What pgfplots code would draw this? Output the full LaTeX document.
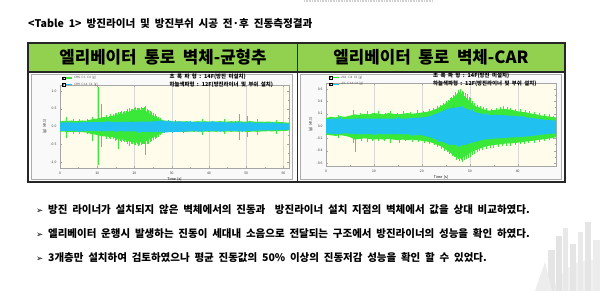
\documentclass[border=0pt]{standalone}
\usepackage{pgfplots}
\pgfplotsset{compat=1.18}
\usepackage{fontspec}
\setmainfont[WordSpace=2]{Noto Sans CJK KR}
\newfontfamily\dejavu{DejaVu Sans}
\definecolor{hdrgreen}{RGB}{146,208,80}
\definecolor{grn}{RGB}{58,232,58}
\definecolor{cyn}{RGB}{32,192,240}
\definecolor{cream}{RGB}{255,252,236}
\pgfplotsset{vib/.style={
  scale only axis, clip=false,
  axis background/.style={fill=cream},
  axis line style={gray!70, line width=0.3pt},
  tick style={gray!70, line width=0.25pt},
  major tick length=1.6pt, minor tick length=0.9pt,
  xmajorgrids, grid style={gray!30, line width=0.3pt},
  /pgf/number format/assume math mode=true,
  tick label style={font=\fontsize{3.4}{4}\selectfont, text=black!80},
  yticklabel style={/pgf/number format/.cd, fixed, fixed zerofill, precision=1},
  xlabel={Time [s]}, xlabel style={font=\fontsize{3.6}{4}\selectfont, inner sep=0.5pt},
  ylabel={[g] (x0.1)}, ylabel style={font=\fontsize{3.4}{4}\selectfont, inner sep=0.5pt},
  minor x tick num=1, minor y tick num=1,
  legend style={draw=none, fill=none, font=\fontsize{3}{3.5}\selectfont, inner sep=0pt,
    row sep=-1.2pt, legend cell align=left, text=black!70},
  legend image code/.code={
    \draw[black, line width=0.2pt, fill=white] (0pt,-1.3pt) rectangle (2.6pt,1.3pt);
    \draw[black, line width=0.3pt] (0.4pt,0.1pt) -- (1.1pt,-0.8pt) -- (2.3pt,1.0pt);
    \draw[line width=1.4pt, #1] (3.6pt,0pt) -- (9.5pt,0pt);}
}}
\begin{document}
\begin{tikzpicture}
\useasboundingbox (0pt,0pt) rectangle (600pt,-291pt);
\fill[white] (0pt,0pt) rectangle (600pt,-291pt);
\draw[gray!35, line width=1.2pt, dash pattern=on 1pt off 0.6pt] (304pt,-1pt) -- (433pt,-1pt);
% decoration bottom right
\begin{scope}
\fill[gray!12] (592pt,-300pt) circle (40pt);
\fill[gray!20] (548pt,-291pt) rectangle (555pt,-250pt);
\fill[gray!22] (556pt,-291pt) rectangle (562pt,-236pt);
\fill[gray!18] (563pt,-291pt) rectangle (568pt,-228pt);
\fill[gray!20] (570pt,-291pt) rectangle (576pt,-244pt);
\fill[gray!17] (578pt,-291pt) rectangle (583pt,-232pt);
\fill[gray!20] (585pt,-291pt) rectangle (591pt,-222pt);
\fill[gray!15] (593pt,-291pt) rectangle (600pt,-240pt);
\fill[gray!14] (535pt,-291pt) -- (545pt,-262pt) -- (552pt,-291pt) -- cycle;
\end{scope}
% title
\node[anchor=west, inner sep=0pt, font=\bfseries\fontsize{10.6}{12}\selectfont] at (28pt,-24pt)
  {<Table 1> 방진라이너 및 방진부쉬 시공 전·후 진동측정결과};
% table
\fill[hdrgreen] (28pt,-43pt) rectangle (565pt,-72pt);
\draw[line width=1.1pt, black!85] (28pt,-43pt) rectangle (565pt,-182pt);
\draw[line width=1.1pt, black!85] (28pt,-72pt) -- (565pt,-72pt);
\draw[line width=0.9pt, black!85] (297pt,-43pt) -- (297pt,-182pt);
\node[inner sep=0pt, font=\bfseries\fontsize{16.8}{18}\selectfont] at (163pt,-57.5pt) {엘리베이터 통로 벽체-균형추};
\node[inner sep=0pt, font=\bfseries\fontsize{16.8}{18}\selectfont] at (431pt,-57.5pt) {엘리베이터 통로 벽체-CAR};
% chart frames
\draw[gray!65, fill=gray!5, line width=0.9pt] (31pt,-74pt) rectangle (292pt,-179pt);
\draw[gray!65, fill=gray!5, line width=0.9pt] (300pt,-74pt) rectangle (561pt,-179pt);

% ---------------- left chart ----------------
\begin{axis}[vib, at={(60pt,-168pt)}, anchor=south west, width=229pt, height=83pt,
  xmin=0, xmax=61.5, ymin=-1.17, ymax=1.17,
  xtick={0,10,...,60}, ytick={-1,-0.5,0,0.5,1},
  legend style={at={(0.008,1.135)}, anchor=north west}]
\addplot[fill=grn, draw=none, forget plot] coordinates {
(0,0.14)(1,0.16)(2,0.15)(3,0.17)(4,0.15)(5,0.16)(6,0.17)(7,0.16)(8,0.19)(9,0.21)(10,0.22)(11,0.25)(12,0.27)(13,0.26)(14,0.30)(15,0.32)(16,0.35)(17,0.37)(18,0.40)(19,0.44)(20,0.47)(21,0.45)(22,0.48)(23,0.44)(24,0.38)(25,0.31)(26,0.25)(27,0.20)(28,0.17)(29,0.16)(30,0.15)(31,0.14)(32,0.15)(33,0.14)(34,0.15)(35,0.14)(36,0.14)(37,0.15)(38,0.14)(39,0.15)(40,0.14)(41,0.15)(42,0.14)(43,0.15)(44,0.14)(45,0.14)(46,0.15)(47,0.14)(48,0.15)(49,0.14)(50,0.14)(51,0.15)(52,0.14)(53,0.13)(54,0.14)(55,0.13)(56,0.14)(57,0.13)(58,0.13)(59,0.12)(60,0.12)(61,0.11)(61.5,0.11)
(61.5,-0.11)(61,-0.12)(60,-0.12)(59,-0.13)(58,-0.13)(57,-0.14)(56,-0.13)(55,-0.14)(54,-0.14)(53,-0.15)(52,-0.14)(51,-0.15)(50,-0.15)(49,-0.14)(48,-0.15)(47,-0.14)(46,-0.15)(45,-0.14)(44,-0.15)(43,-0.14)(42,-0.15)(41,-0.14)(40,-0.15)(39,-0.14)(38,-0.15)(37,-0.14)(36,-0.15)(35,-0.14)(34,-0.15)(33,-0.15)(32,-0.14)(31,-0.15)(30,-0.15)(29,-0.16)(28,-0.17)(27,-0.21)(26,-0.26)(25,-0.31)(24,-0.36)(23,-0.42)(22,-0.44)(21,-0.46)(20,-0.45)(19,-0.43)(18,-0.40)(17,-0.37)(16,-0.36)(15,-0.33)(14,-0.30)(13,-0.29)(12,-0.28)(11,-0.27)(10,-0.24)(9,-0.22)(8,-0.20)(7,-0.17)(6,-0.16)(5,-0.15)(4,-0.16)(3,-0.15)(2,-0.16)(1,-0.14)(0,-0.15)};
\addplot[ycomb, grn, line width=0.45pt, mark=none, forget plot] coordinates {
(1.6,0.26)(3.5,0.2)(5.2,0.21)(7.4,0.22)(8.75,0.28)(10.3,1.1)(11.2,0.64)(12.5,0.33)(13.1,0.31)(13.6,0.36)(14.2,0.34)(14.7,0.38)(15.2,0.37)(15.6,0.42)(16.1,0.4)(16.5,0.43)(16.9,0.41)(17.3,0.45)(17.7,0.44)(18.1,0.48)(18.6,0.52)(19,0.49)(19.4,0.5)(19.9,0.53)(20.3,0.55)(20.7,0.51)(21,0.53)(21.4,0.52)(21.7,0.56)(22.1,0.53)(22.4,0.52)(22.7,0.54)(23,0.57)(23.4,0.5)(23.8,0.46)(24.2,0.43)(24.6,0.4)(25,0.37)(25.5,0.34)(25.9,0.3)(26.3,0.28)(26.8,0.24)(38.2,0.22)(44,0.2)(48.2,0.36)(50.3,0.3)(53,0.2)(58,0.18)};
\addplot[ycomb, grn, line width=0.45pt, mark=none, forget plot] coordinates {
(1.6,-0.32)(3.5,-0.2)(5.2,-0.21)(7.4,-0.22)(8.75,-0.4)(10.3,-1.08)(11.2,-0.58)(12.5,-0.34)(13.1,-0.33)(13.6,-0.36)(14.2,-0.35)(14.7,-0.4)(15.2,-0.38)(15.6,-0.63)(16.1,-0.41)(16.5,-0.44)(16.9,-0.42)(17.3,-0.45)(17.7,-0.44)(18.1,-0.48)(18.6,-0.55)(19,-0.49)(19.4,-0.5)(19.9,-0.51)(20.3,-0.52)(20.7,-0.5)(21,-0.55)(21.4,-0.51)(21.7,-0.53)(22.1,-0.5)(22.4,-0.5)(22.7,-0.48)(23,-0.79)(23.4,-0.5)(23.8,-0.48)(24.2,-0.44)(24.6,-0.42)(25,-0.38)(25.5,-0.35)(25.9,-0.32)(26.3,-0.3)(26.8,-0.25)(38.2,-0.25)(44,-0.2)(48.2,-0.39)(50.3,-0.3)(53,-0.25)(58,-0.2)};
\addplot[fill=cyn, draw=none, forget plot] coordinates {
(0,0.11)(2,0.12)(4,0.11)(6,0.12)(8,0.12)(10,0.12)(12,0.13)(14,0.12)(16,0.13)(18,0.13)(20,0.13)(22,0.14)(24,0.14)(26,0.15)(28,0.15)(30,0.14)(32,0.14)(34,0.13)(36,0.12)(38,0.13)(40,0.12)(42,0.12)(44,0.12)(46,0.11)(48,0.12)(50,0.11)(52,0.11)(54,0.1)(56,0.1)(58,0.09)(60,0.09)(61.5,0.08)
(61.5,-0.09)(60,-0.1)(58,-0.1)(56,-0.11)(54,-0.11)(52,-0.12)(50,-0.12)(48,-0.13)(46,-0.12)(44,-0.13)(42,-0.13)(40,-0.13)(38,-0.14)(36,-0.13)(34,-0.14)(32,-0.15)(30,-0.15)(28,-0.16)(26,-0.16)(24,-0.15)(22,-0.15)(20,-0.14)(18,-0.14)(16,-0.13)(14,-0.13)(12,-0.13)(10,-0.13)(8,-0.12)(6,-0.13)(4,-0.12)(2,-0.12)(0,-0.12)};
\addplot[ycomb, cyn, line width=0.4pt, mark=none, forget plot] coordinates {
(3,0.14)(9,0.15)(13,0.16)(19,0.16)(25,0.18)(27,0.18)(29,0.17)(31,0.17)(35,0.15)(41,0.15)(47,0.15)(51,0.14)(57,0.12)};
\addplot[ycomb, cyn, line width=0.4pt, mark=none, forget plot] coordinates {
(5,-0.15)(11,-0.16)(15,-0.16)(21,-0.17)(24,-0.18)(28,-0.19)(30,-0.18)(33,-0.18)(37,-0.16)(43,-0.16)(49,-0.15)(55,-0.14)(59,-0.12)};
\addlegendimage{grn}\addlegendentry{CH6 C:1 C4 [g]}
\addlegendimage{cyn}\addlegendentry{CH9 C:14 C4 [g]}
\node[anchor=west, inner sep=0pt, align=left, font=\bfseries\fontsize{5.4}{7.6}\selectfont]
  at (rel axis cs:0.478,1.05) {초 록 파 형 : 14F(방진 미설치)\\하늘색파형 : 12F(방진라이너 및 부쉬 설치)};
\end{axis}

% ---------------- right chart ----------------
\begin{axis}[vib, at={(326pt,-166pt)}, anchor=south west, width=230pt, height=83pt,
  xmin=0, xmax=48, ymin=-0.65, ymax=0.7,
  xtick={0,10,...,40}, ytick={-0.6,-0.4,-0.2,0,0.2,0.4,0.6},
  legend style={at={(0.012,1.115)}, anchor=north west}]
\addplot[fill=grn, draw=none, forget plot] coordinates {
(0,0.13)(1,0.15)(2,0.14)(3,0.16)(4,0.15)(5,0.17)(6,0.19)(7,0.18)(8,0.2)(9,0.19)(10,0.21)(11,0.2)(12,0.19)(13,0.21)(14,0.2)(15,0.19)(16,0.2)(17,0.21)(18,0.2)(19,0.21)(20,0.22)(21,0.23)(22,0.25)(23,0.28)(24,0.32)(25,0.37)(26,0.42)(27,0.5)(28,0.55)(29,0.48)(30,0.4)(31,0.33)(32,0.3)(33,0.27)(34,0.25)(35,0.26)(36,0.27)(37,0.28)(38,0.27)(39,0.26)(40,0.24)(41,0.23)(42,0.22)(43,0.2)(44,0.19)(45,0.17)(46,0.16)(47,0.15)(48,0.14)
(48,-0.18)(47,-0.2)(46,-0.21)(45,-0.22)(44,-0.23)(43,-0.24)(42,-0.25)(41,-0.26)(40,-0.27)(39,-0.28)(38,-0.28)(37,-0.29)(36,-0.3)(35,-0.31)(34,-0.32)(33,-0.34)(32,-0.37)(31,-0.4)(30,-0.44)(29,-0.5)(28,-0.53)(27,-0.5)(26,-0.44)(25,-0.38)(24,-0.33)(23,-0.3)(22,-0.27)(21,-0.25)(20,-0.24)(19,-0.23)(18,-0.22)(17,-0.23)(16,-0.22)(15,-0.23)(14,-0.22)(13,-0.21)(12,-0.22)(11,-0.21)(10,-0.22)(9,-0.21)(8,-0.2)(7,-0.21)(6,-0.22)(5,-0.18)(4,-0.16)(3,-0.15)(2,-0.16)(1,-0.15)(0,-0.14)};
\addplot[ycomb, grn, line width=0.45pt, mark=none, forget plot] coordinates {
(2.5,0.18)(5.7,0.26)(7.2,0.22)(8.5,0.24)(9.7,0.22)(10.8,0.25)(12.3,0.22)(13.5,0.24)(14.8,0.22)(16.2,0.25)(17.6,0.23)(19.1,0.26)(20.3,0.25)(21.5,0.28)(22.4,0.3)(23.2,0.33)(23.9,0.35)(24.5,0.38)(25,0.4)(25.5,0.43)(25.9,0.45)(26.2,0.48)(26.6,0.5)(27,0.55)(27.3,0.54)(27.6,0.58)(27.9,0.56)(28.1,0.6)(28.4,0.57)(28.7,0.55)(29,0.53)(29.4,0.52)(29.8,0.48)(30.2,0.45)(30.6,0.41)(31,0.38)(31.6,0.35)(32.2,0.33)(32.8,0.31)(33.5,0.3)(34.5,0.28)(35.5,0.3)(36.3,0.31)(37,0.32)(37.8,0.31)(38.5,0.3)(39.5,0.28)(40.5,0.27)(41.5,0.26)(42.5,0.24)(43.5,0.23)(44.5,0.21)(45.5,0.2)(46.5,0.19)(47.5,0.17)};
\addplot[ycomb, grn, line width=0.45pt, mark=none, forget plot] coordinates {
(2.5,-0.19)(5.7,-0.27)(6.2,-0.42)(7.3,-0.25)(8.5,-0.26)(9.6,-0.24)(10.8,-0.25)(12.2,-0.25)(13.5,-0.27)(15.3,-0.27)(16.6,-0.25)(18,-0.26)(19.3,-0.26)(20.5,-0.28)(21.6,-0.29)(22.5,-0.31)(23.3,-0.34)(24,-0.37)(24.6,-0.4)(25.2,-0.42)(25.8,-0.45)(26.3,-0.48)(26.8,-0.5)(27.2,-0.55)(27.6,-0.54)(27.9,-0.57)(28.2,-0.56)(28.5,-0.58)(28.9,-0.55)(29.2,-0.54)(29.6,-0.52)(30,-0.5)(30.5,-0.47)(31,-0.45)(31.5,-0.43)(32,-0.41)(32.7,-0.39)(33.5,-0.37)(34.2,-0.36)(35,-0.35)(36,-0.34)(36.8,-0.33)(37.6,-0.33)(38.5,-0.32)(39.5,-0.31)(40.5,-0.3)(41.4,-0.29)(42.3,-0.28)(43.4,-0.27)(44.5,-0.26)(45.5,-0.24)(46.5,-0.23)(47.5,-0.21)};
\addplot[fill=cyn, draw=none, forget plot] coordinates {
(0,0.11)(2,0.12)(4,0.11)(6,0.12)(8,0.12)(10,0.12)(12,0.12)(14,0.12)(16,0.12)(18,0.13)(20,0.14)(21,0.15)(22,0.17)(23,0.2)(24,0.23)(25,0.27)(26,0.29)(27,0.3)(28,0.31)(29,0.29)(30,0.26)(31,0.23)(32,0.21)(33,0.19)(34,0.18)(36,0.18)(38,0.17)(40,0.16)(42,0.14)(44,0.12)(46,0.1)(48,0.09)
(48,-0.12)(46,-0.13)(44,-0.15)(42,-0.17)(40,-0.18)(38,-0.19)(36,-0.2)(34,-0.21)(33,-0.22)(32,-0.24)(31,-0.26)(30,-0.28)(29,-0.31)(28,-0.32)(27,-0.31)(26,-0.3)(25,-0.28)(24,-0.25)(23,-0.22)(22,-0.19)(21,-0.17)(20,-0.15)(18,-0.14)(16,-0.13)(14,-0.13)(12,-0.13)(10,-0.13)(8,-0.13)(6,-0.13)(4,-0.12)(2,-0.13)(0,-0.12)};
\addplot[ycomb, cyn, line width=0.4pt, mark=none, forget plot] coordinates {
(3,0.14)(7,0.14)(11,0.14)(15,0.14)(19,0.15)(22.5,0.2)(24.5,0.27)(26.5,0.32)(28.5,0.33)(30.5,0.27)(33.5,0.21)(37,0.2)(41,0.17)(45,0.13)};
\addplot[ycomb, cyn, line width=0.4pt, mark=none, forget plot] coordinates {
(2,-0.15)(6,-0.15)(10,-0.15)(14,-0.15)(18,-0.16)(21.5,-0.2)(23.5,-0.26)(25.5,-0.31)(27.5,-0.34)(29.5,-0.32)(31.5,-0.27)(34.5,-0.23)(39,-0.2)(43,-0.17)(47,-0.14)};
\addlegendimage{grn}\addlegendentry{2G1 C:8 C4 [g]}
\addlegendimage{cyn}\addlegendentry{2/1 C:14 C4 [g]}
\node[anchor=west, inner sep=0pt, align=left, font=\bfseries\fontsize{5.4}{7.6}\selectfont]
  at (rel axis cs:0.465,1.04) {초 록 파 형 : 14F(방진 미설치)\\하늘색파형 : 12F(방진라이너 및 부쉬 설치)};
\end{axis}

% bullets
\node[anchor=west, inner sep=0pt, font=\bfseries\fontsize{10.5}{12}\selectfont] at (36pt,-210pt)
  {{\dejavu\fontsize{8.5}{9}\selectfont ➢} 방진 라이너가 설치되지 않은 벽체에서의 진동과 \ 방진라이너 설치 지점의 벽체에서 값을 상대 비교하였다.};
\node[anchor=west, inner sep=0pt, font=\bfseries\fontsize{10.5}{12}\selectfont] at (36pt,-234pt)
  {{\dejavu\fontsize{8.5}{9}\selectfont ➢} 엘리베이터 운행시 발생하는 진동이 세대내 소음으로 전달되는 구조에서 방진라이너의 성능을 확인 하였다.};
\node[anchor=west, inner sep=0pt, font=\bfseries\fontsize{10.5}{12}\selectfont] at (36pt,-258pt)
  {{\dejavu\fontsize{8.5}{9}\selectfont ➢} 3개층만 설치하여 검토하였으나 평균 진동값의 50\% 이상의 진동저감 성능을 확인 할 수 있었다.};
\end{tikzpicture}
\end{document}
